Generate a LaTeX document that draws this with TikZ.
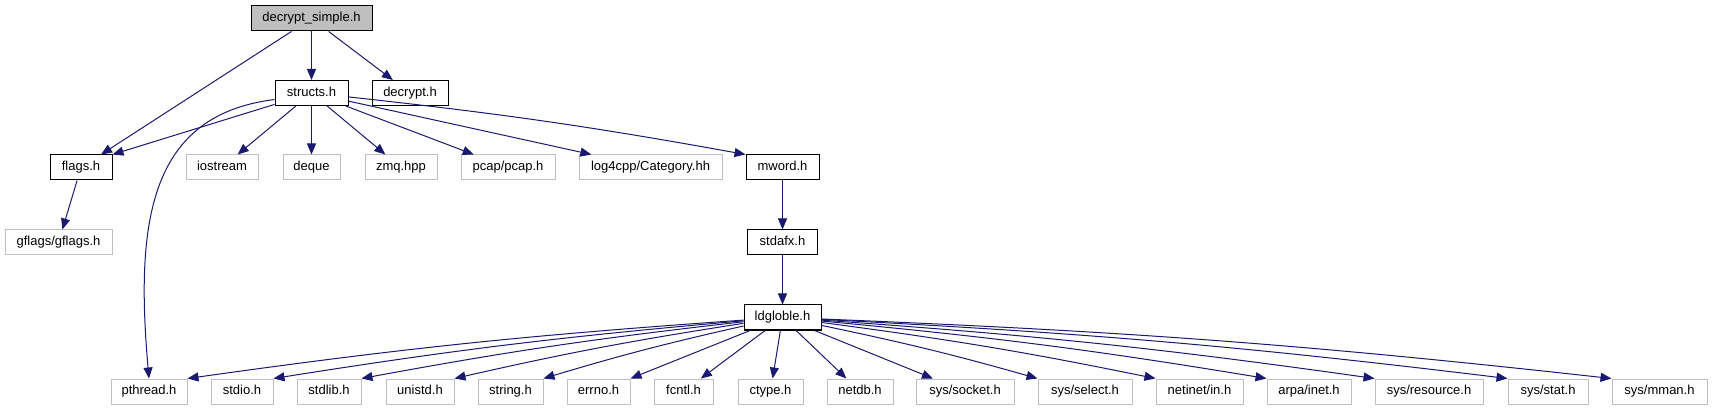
\documentclass[tikz,border=0pt]{standalone}
\usepackage{fontspec}
\setmainfont{Liberation Sans}
\usetikzlibrary{arrows.meta}
\definecolor{edgeblue}{HTML}{191970}
\definecolor{extgray}{HTML}{BFBFBF}
\tikzset{
  hdr/.style={draw=black, line width=1pt, minimum height=25pt, inner sep=0pt,
    font=\fontsize{13}{15}\selectfont, text height=9.5pt, text depth=2.7pt},
  syshdr/.style={hdr, draw=extgray},
  inc/.style={draw=edgeblue, line width=1pt, -{Triangle[length=11pt,width=9pt]}}
}
\begin{document}
\begin{tikzpicture}[x=1pt,y=-1pt]
  \useasboundingbox (0,0) rectangle (1712,411);
  \node[hdr, fill=extgray, minimum width=121pt] (dsimple) at (311.5,18.5) {decrypt\_simple.h};
  \node[hdr, minimum width=73pt] (structs) at (311.5,93) {structs.h};
  \node[hdr, minimum width=76pt] (decrypt) at (410,93) {decrypt.h};
  \node[hdr, minimum width=62pt] (flags) at (81,167.5) {flags.h};
  \node[syshdr, minimum width=72pt] (iostream) at (222,167.5) {iostream};
  \node[syshdr, minimum width=57pt] (deque) at (311.5,167.5) {deque};
  \node[syshdr, minimum width=72pt] (zmq) at (401,167.5) {zmq.hpp};
  \node[syshdr, minimum width=94pt] (pcap) at (508,167.5) {pcap/pcap.h};
  \node[syshdr, minimum width=143pt] (log4cpp) at (650.5,167.5) {log4cpp/Category.hh};
  \node[hdr, minimum width=73pt] (mword) at (782.5,167.5) {mword.h};
  \node[syshdr, minimum width=107pt] (gflags) at (58.5,242.5) {gflags/gflags.h};
  \node[hdr, minimum width=70pt] (stdafx) at (782.5,242.5) {stdafx.h};
  \node[hdr, minimum width=77pt] (ldgloble) at (782.5,317.5) {ldgloble.h};
  \node[syshdr, minimum width=76pt] (pthread) at (149,391.5) {pthread.h};
  \node[syshdr, minimum width=62pt] (stdio) at (242,391.5) {stdio.h};
  \node[syshdr, minimum width=64pt] (stdlib) at (329,391.5) {stdlib.h};
  \node[syshdr, minimum width=68pt] (unistd) at (420,391.5) {unistd.h};
  \node[syshdr, minimum width=65pt] (string) at (510.5,391.5) {string.h};
  \node[syshdr, minimum width=63pt] (errno) at (598.5,391.5) {errno.h};
  \node[syshdr, minimum width=59pt] (fcntl) at (683.5,391.5) {fcntl.h};
  \node[syshdr, minimum width=65pt] (ctype) at (770.5,391.5) {ctype.h};
  \node[syshdr, minimum width=66pt] (netdb) at (860,391.5) {netdb.h};
  \node[syshdr, minimum width=98pt] (socket) at (965,391.5) {sys/socket.h};
  \node[syshdr, minimum width=94pt] (select) at (1085,391.5) {sys/select.h};
  \node[syshdr, minimum width=87pt] (netinet) at (1199.5,391.5) {netinet/in.h};
  \node[syshdr, minimum width=84pt] (arpa) at (1309,391.5) {arpa/inet.h};
  \node[syshdr, minimum width=108pt] (resource) at (1429,391.5) {sys/resource.h};
  \node[syshdr, minimum width=80pt] (stat) at (1548,391.5) {sys/stat.h};
  \node[syshdr, minimum width=95pt] (mman) at (1659.5,391.5) {sys/mman.h};

  \draw[inc] (dsimple) -- (flags);
  \draw[inc] (dsimple) -- (structs);
  \draw[inc] (dsimple) -- (decrypt);
  \draw[inc] (structs) -- (flags.north east);
  \draw[inc] (structs.190) .. controls (150,115) and (135,220) .. (pthread.north);
  \draw[inc] (structs) -- (iostream);
  \draw[inc] (structs) -- (deque);
  \draw[inc] (structs) -- (zmq);
  \draw[inc] (structs) -- (pcap);
  \draw[inc] (structs) -- (log4cpp);
  \draw[inc] (structs) to[bend left=2] (mword.north west);
  \draw[inc] (flags) -- (gflags);
  \draw[inc] (mword) -- (stdafx);
  \draw[inc] (stdafx) -- (ldgloble);

  \draw[inc] (ldgloble) to[bend right=2] (pthread.north east);
  \draw[inc] (ldgloble) to[bend right=2] (stdio.north east);
  \draw[inc] (ldgloble) to[bend right=2] (stdlib.north east);
  \draw[inc] (ldgloble) to[bend right=2] (unistd.north east);
  \draw[inc] (ldgloble) to[bend right=2] (string.north east);
  \draw[inc] (ldgloble) -- (errno.north east);
  \draw[inc] (ldgloble) -- (fcntl);
  \draw[inc] (ldgloble) -- (ctype);
  \draw[inc] (ldgloble) -- (netdb);
  \draw[inc] (ldgloble) -- (socket);
  \draw[inc] (ldgloble) to[bend left=2] (select.north west);
  \draw[inc] (ldgloble) to[bend left=2] (netinet.north west);
  \draw[inc] (ldgloble) to[bend left=2] (arpa.north west);
  \draw[inc] (ldgloble) to[bend left=2] (resource.north west);
  \draw[inc] (ldgloble) to[bend left=2] (stat.north west);
  \draw[inc] (ldgloble) to[bend left=2] (mman.north west);
\end{tikzpicture}
\end{document}
